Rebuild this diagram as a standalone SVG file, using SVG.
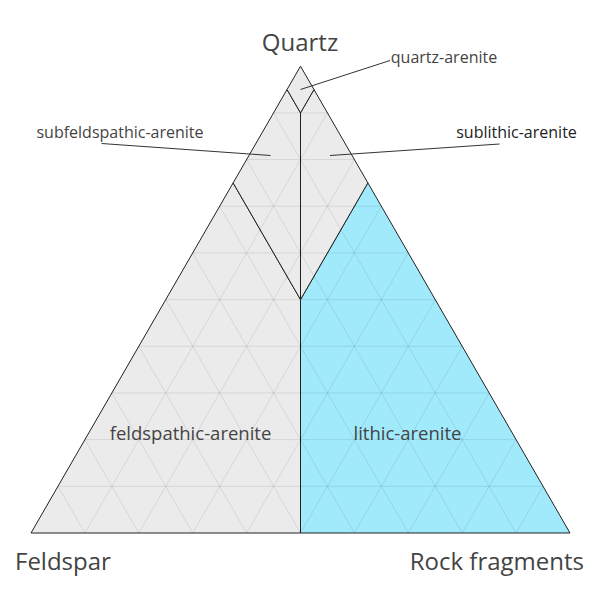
<svg xmlns="http://www.w3.org/2000/svg" width="600" height="600" viewBox="0 0 600 600">
<style>
.reg{stroke:#222;stroke-width:1;stroke-linejoin:round}
.grey{fill:#ebebeb}
.cyan{fill:#a0eafc}
.grid line{stroke:#000;stroke-opacity:0.09;stroke-width:1}
.ann{stroke:#333;stroke-width:1;fill:none}
text{font-family:"Open Sans","Liberation Sans",sans-serif;fill:#444}
.axis{font-size:24px}
.big{font-size:18.5px}
.small{font-size:16px}
.dark{fill:#222}
</style>
<rect width="600" height="600" fill="#fff"/>
<g id="feldspathic-arenite">
<polygon class="reg grey" points="233.13,182.9 31,533 300.5,533 300.5,299.6"/>
</g>
<g id="lithic-arenite">
<polygon class="reg cyan" points="367.88,182.9 570,533 300.5,533 300.5,299.6"/>
</g>
<g id="subfeldspathic-arenite">
<polygon class="reg grey" points="287.03,89.54 233.13,182.9 300.5,299.6 300.5,112.88"/>
</g>
<g id="sublithic-arenite">
<polygon class="reg grey" points="313.98,89.54 367.88,182.9 300.5,299.6 300.5,112.88"/>
</g>
<g id="quartz-arenite">
<polygon class="reg grey" points="300.5,66.2 287.03,89.54 300.5,112.88 313.98,89.54"/>
</g>
<g class="grid">
<line x1="57.95" y1="486.32" x2="543.05" y2="486.32"/>
<line x1="84.9" y1="439.64" x2="516.1" y2="439.64"/>
<line x1="111.85" y1="392.96" x2="489.15" y2="392.96"/>
<line x1="138.8" y1="346.28" x2="462.2" y2="346.28"/>
<line x1="165.75" y1="299.6" x2="435.25" y2="299.6"/>
<line x1="192.7" y1="252.92" x2="408.3" y2="252.92"/>
<line x1="219.65" y1="206.24" x2="381.35" y2="206.24"/>
<line x1="246.6" y1="159.56" x2="354.4" y2="159.56"/>
<line x1="273.55" y1="112.88" x2="327.45" y2="112.88"/>
<line x1="84.9" y1="533" x2="57.95" y2="486.32"/>
<line x1="138.8" y1="533" x2="84.9" y2="439.64"/>
<line x1="192.7" y1="533" x2="111.85" y2="392.96"/>
<line x1="246.6" y1="533" x2="138.8" y2="346.28"/>
<line x1="300.5" y1="533" x2="165.75" y2="299.6"/>
<line x1="354.4" y1="533" x2="192.7" y2="252.92"/>
<line x1="408.3" y1="533" x2="219.65" y2="206.24"/>
<line x1="462.2" y1="533" x2="246.6" y2="159.56"/>
<line x1="516.1" y1="533" x2="273.55" y2="112.88"/>
<line x1="84.9" y1="533" x2="327.45" y2="112.88"/>
<line x1="138.8" y1="533" x2="354.4" y2="159.56"/>
<line x1="192.7" y1="533" x2="381.35" y2="206.24"/>
<line x1="246.6" y1="533" x2="408.3" y2="252.92"/>
<line x1="300.5" y1="533" x2="435.25" y2="299.6"/>
<line x1="354.4" y1="533" x2="462.2" y2="346.28"/>
<line x1="408.3" y1="533" x2="489.15" y2="392.96"/>
<line x1="462.2" y1="533" x2="516.1" y2="439.64"/>
<line x1="516.1" y1="533" x2="543.05" y2="486.32"/>
</g>
<g id="connectors">
<line class="ann" x1="300.5" y1="89.5" x2="390" y2="60.5"/>
<line class="ann" x1="270.5" y1="155.5" x2="101.5" y2="143.5"/>
<line class="ann" x1="330" y1="155.5" x2="499.5" y2="144"/>
</g>
<g id="labels">
<text class="axis" x="300" y="51" text-anchor="middle">Quartz</text>
<text class="axis" x="15" y="570">Feldspar</text>
<text class="axis" x="584" y="570" text-anchor="end">Rock fragments</text>
<text class="small" x="444" y="63" text-anchor="middle">quartz-arenite</text>
<text class="small" x="120" y="137.5" text-anchor="middle">subfeldspathic-arenite</text>
<text class="small dark" x="516.5" y="137.5" text-anchor="middle">sublithic-arenite</text>
<text class="big" x="190.5" y="440" text-anchor="middle">feldspathic-arenite</text>
<text class="big" x="407.5" y="440" text-anchor="middle">lithic-arenite</text>
</g>
</svg>
